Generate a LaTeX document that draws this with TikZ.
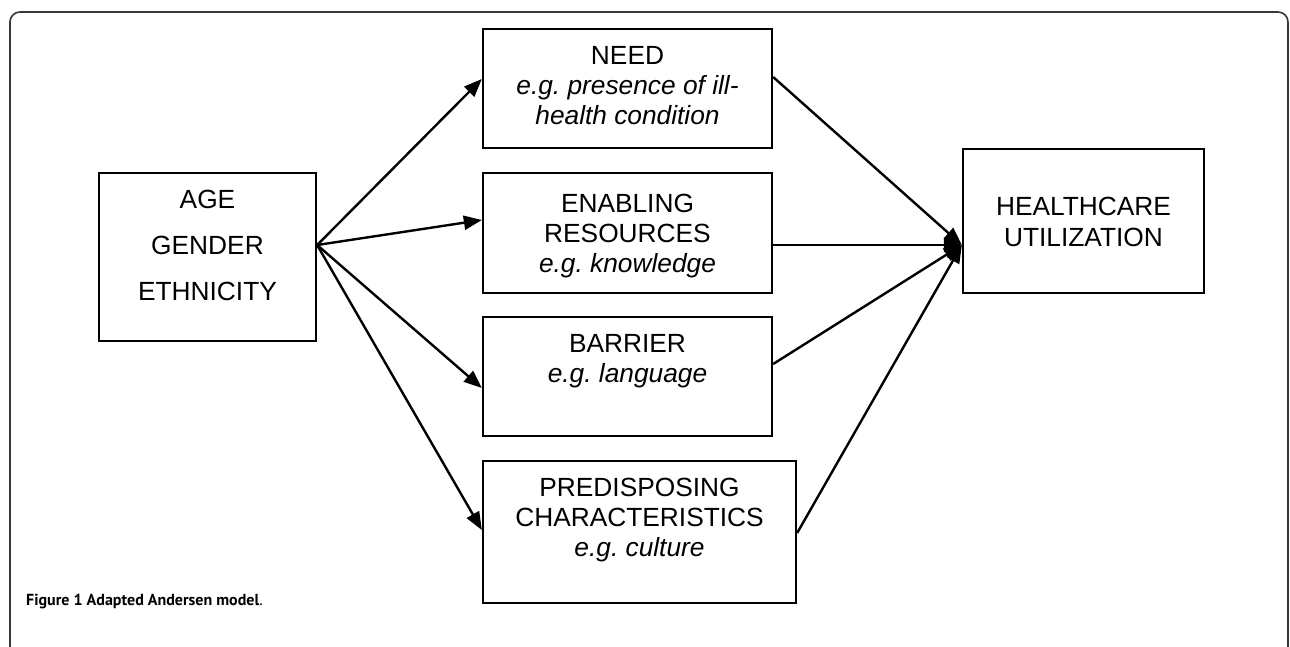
\documentclass[tikz,border=0pt]{standalone}
\usepackage{fontspec}
\setmainfont{Liberation Sans}
\newfontfamily\capfont{PT Sans}
\usetikzlibrary{arrows.meta}
\frenchspacing
\newcommand\boxlines[2]{\parbox[t]{400pt}{\centering\frenchspacing\fontsize{26.3}{#1}\selectfont #2}}
\tikzset{
  frame/.style={draw=black!78, line width=1.6pt, rounded corners=10pt},
  boxnode/.style={draw, line width=2.3pt, inner sep=0pt},
  txt/.style={anchor=base, inner sep=0pt},
  arr/.style={line width=2.4pt, -{Triangle[length=18pt,width=14pt]}}
}
\begin{document}
\begin{tikzpicture}[x=1pt,y=-1pt]
\useasboundingbox (0,0) rectangle (1290,646);
\begin{scope}
\clip (0,0) rectangle (1290,646);
\draw[frame] (10,670) -- (10,12) -- (1288,12) -- (1288,670);
\end{scope}
% boxes
\node[boxnode, minimum width=217pt, minimum height=168pt] (demo) at (207.5,257) {};
\node[boxnode, minimum width=289pt, minimum height=119pt] (need) at (627.5,88.5) {};
\node[boxnode, minimum width=289pt, minimum height=120pt] (enab) at (627.5,233) {};
\node[boxnode, minimum width=289pt, minimum height=119pt] (barr) at (627.5,376.5) {};
\node[boxnode, minimum width=313pt, minimum height=142pt] (pred) at (639.5,532) {};
\node[boxnode, minimum width=241pt, minimum height=144pt] (hc) at (1083.5,221) {};
% texts
\node[txt] (demotxt) at (207.5,208) {\boxlines{46}{AGE\\GENDER\\ETHNICITY}};
\node[txt] (needtxt) at (627.5,64) {\boxlines{30}{NEED\\\textit{e.g. presence of ill-}\\\textit{health condition}}};
\node[txt] (enabtxt) at (627.5,212) {\boxlines{30}{ENABLING\\RESOURCES\\\textit{e.g. knowledge}}};
\node[txt] (barrtxt) at (627.5,352) {\boxlines{30}{BARRIER\\\textit{e.g. language}}};
\node[txt] (predtxt) at (639.5,496) {\boxlines{30}{PREDISPOSING\\CHARACTERISTICS\\\textit{e.g. culture}}};
\node[txt] (hctxt) at (1083.5,215) {\boxlines{31}{HEALTHCARE\\UTILIZATION}};
% connectors
\coordinate (src) at ([yshift=12pt]demo.east);
\draw[arr] (src) -- ([yshift=9.5pt]need.west);
\draw[arr] (src) -- ([yshift=13pt]enab.west);
\draw[arr] (src) -- ([yshift=-11.5pt]barr.west);
\draw[arr] (src) -- ([yshift=2pt]pred.west);
\coordinate (dst) at ([yshift=-24pt]hc.west);
\draw[arr] ([yshift=11.5pt]need.east) -- (dst);
\draw[arr] ([yshift=-12pt]enab.east) -- (dst);
\draw[arr] ([yshift=12.5pt]barr.east) -- (dst);
\draw[arr] ([yshift=-1pt]pred.east) -- (dst);
% caption
\node[anchor=base west, inner sep=0pt] (cap) at (26,605) {\capfont\fontsize{16}{20}\selectfont\bfseries Figure 1 Adapted Andersen model\mdseries.};
\end{tikzpicture}
\end{document}
